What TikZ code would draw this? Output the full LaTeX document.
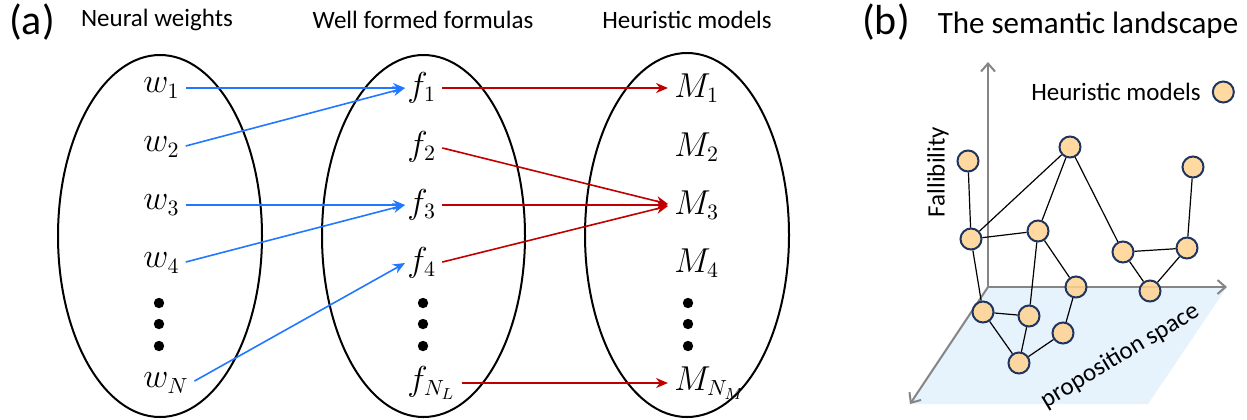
\documentclass[tikz,border=0pt]{standalone}
\usepackage{fontspec}
\setmainfont{Carlito}
\usetikzlibrary{positioning,arrows.meta}
\definecolor{mapblue}{HTML}{1F78FF}
\definecolor{mapred}{HTML}{C00000}
\definecolor{modelfill}{HTML}{FFD28F}
\definecolor{modelline}{HTML}{1F3560}
\definecolor{planeblue}{HTML}{E6F2FC}
\definecolor{axisgray}{HTML}{858585}

\begin{document}
\begin{tikzpicture}[x=0.5pt, y=-0.5pt,
  set/.style={draw, line width=1pt},
  elem/.style={anchor=west, inner sep=1pt, font=\fontsize{16}{18}\selectfont},
  head/.style={font=\fontsize{12.5}{15}\selectfont},
  panel/.style={font=\fontsize{21}{24}\selectfont},
  wmap/.style={mapblue, line width=0.8pt, shorten <=2pt, -{Stealth[length=6pt,width=5pt]}},
  fmap/.style={mapred, line width=0.8pt, shorten <=2pt, shorten >=2pt, -{Stealth[length=6pt,width=5pt]}},
  model/.style={circle, draw=modelline, fill=modelfill, fill opacity=0.85, line width=1pt, minimum size=10.5pt, inner sep=0pt},
  link/.style={black, line width=0.6pt},
  axis/.style={axisgray, line width=1pt, -{Straight Barb[length=4pt,width=7pt]}}]
  \useasboundingbox (0,0) rectangle (1247,419);

  % (a) three sets
  \node[panel] (la) at (32,22) {(a)};
  \node[head] (hw) at (157,20) {Neural weights};
  \node[head] (hf) at (423,20) {Well formed formulas};
  \node[head] (hm) at (687,20) {Heuristic models};

  \draw[set] (160,236) ellipse [x radius=51pt, y radius=90.5pt];
  \draw[set] (423.5,236) ellipse [x radius=50.75pt, y radius=90.5pt];
  \draw[set] (687,235) ellipse [x radius=51pt, y radius=91pt];

  \node[elem] (w1) at (141,88) {$w_1$};
  \node[elem] (w2) at (141,147) {$w_2$};
  \node[elem] (w3) at (141,205) {$w_3$};
  \node[elem] (w4) at (141,263) {$w_4$};
  \node[elem] (wN) at (141,383) {$w_N$};

  \node[elem] (f1) at (405,88) {$f_1$};
  \node[elem] (f2) at (405,147) {$f_2$};
  \node[elem] (f3) at (405,205) {$f_3$};
  \node[elem] (f4) at (405,263) {$f_4$};
  \node[elem] (fN) at (405,383) {$f_{N_L}$};

  \node[elem] (M1) at (672,88) {$M_1$};
  \node[elem] (M2) at (672,147) {$M_2$};
  \node[elem] (M3) at (672,205) {$M_3$};
  \node[elem] (M4) at (672,263) {$M_4$};
  \node[elem] (MN) at (672,383) {$M_{N_M}$};

  \foreach \x in {159,423,688}
    \foreach \y in {303,324,346}
      \fill (\x,\y) circle [radius=2.6pt];

  \draw[wmap] (w1.east) -- (f1.west);
  \draw[wmap] (w2.east) -- (f1.west);
  \draw[wmap] (w3.east) -- (f3.west);
  \draw[wmap] (w4.east) -- (f3.west);
  \draw[wmap] (wN.east) -- (f4.west);

  \draw[fmap] (f1.east) -- (M1.west);
  \draw[fmap] (f2.east) -- (M3.west);
  \draw[fmap] (f3.east) -- (M3.west);
  \draw[fmap] (f4.east) -- (M3.west);
  \draw[fmap] (fN.east) -- (MN.west);

  % (b) landscape
  \node[panel] (lb) at (886,22) {(b)};
  \node[font=\fontsize{15.5}{18}\selectfont] (title) at (1088,25) {The semantic landscape};

  \coordinate (O) at (988,287);
  \coordinate (up) at (988,62);
  \coordinate (right) at (1227,287);
  \coordinate (down) at (910,404);
  \fill[planeblue] (O) -- (right) -- (1148,404) -- (down) -- cycle;
  \draw[axis] (O) -- (up);
  \draw[axis] (O) -- (right);
  \draw[axis] (O) -- (down);

  \node[head, rotate=90] (fall) at (938,172) {Fallibility};
  \node[head, rotate=31] (prop) at (1120,356) {proposition space};
  \node[head] (legend) at (1116,92) {Heuristic models};
  \node[model, right=2pt of legend] (key) {};

  \node[model] (n1) at (968,161) {};
  \node[model] (n2) at (1070,147) {};
  \node[model] (n3) at (1193,167) {};
  \node[model] (n4) at (971,239) {};
  \node[model] (n5) at (1038,231) {};
  \node[model] (n6) at (1123,252) {};
  \node[model] (n7) at (1187,248) {};
  \node[model] (n8) at (1076,287) {};
  \node[model] (n9) at (1150,291) {};
  \node[model] (n10) at (983,312) {};
  \node[model] (n11) at (1029,316) {};
  \node[model] (n12) at (1063,333) {};
  \node[model] (n13) at (1019,363) {};

  \foreach \a/\b in {n1/n4, n4/n2, n4/n5, n5/n2, n2/n6, n6/n7, n6/n9, n9/n7, n7/n3,
                     n5/n8, n5/n11, n4/n10, n10/n11, n10/n13, n11/n13, n13/n12, n12/n8}
    \draw[link] (\a) -- (\b);
\end{tikzpicture}
\end{document}
